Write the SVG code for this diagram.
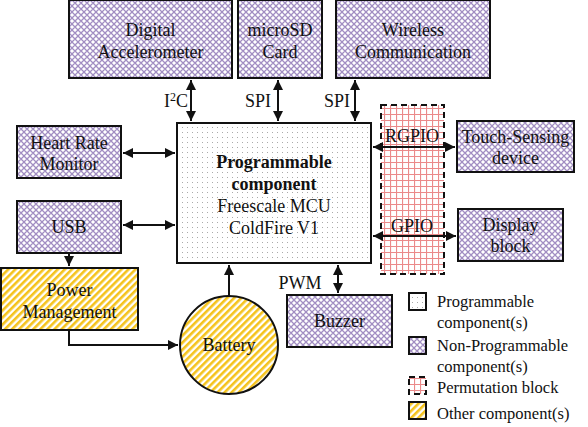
<svg xmlns="http://www.w3.org/2000/svg" width="588" height="427" viewBox="0 0 588 427">
<style>
text{font-family:'Liberation Serif','Times New Roman',Times,'DejaVu Serif',serif}
.t{font-size:18px;fill:#111;text-anchor:middle}
.b{font-weight:bold}
.l{font-size:16.5px;fill:#111}
.np{fill:url(#pNP);stroke:#111;stroke-width:2}
.pr{fill:url(#pDot);stroke:#111;stroke-width:2}
.ot{fill:url(#pYel);stroke:#111;stroke-width:2}
.pm{fill:url(#pGrid);stroke:#111;stroke-width:2;stroke-dasharray:6,4}
.c{fill:none;stroke:#111;stroke-width:2}
</style>
<defs>
<pattern id="pNP" width="6" height="6" patternUnits="userSpaceOnUse">
<rect width="6" height="6" fill="#fff"/>
<path d="M0,0L6,6M6,0L0,6M-3,3L3,-3M3,9L9,3M-3,3L3,9M3,-3L9,3" stroke="#a18dc2" stroke-width="1.3"/>
</pattern>
<pattern id="pDot" width="5" height="5" patternUnits="userSpaceOnUse">
<rect width="5" height="5" fill="#fff"/>
<rect x="2" y="2" width="1" height="1" fill="#aaa"/>
</pattern>
<pattern id="pGrid" width="6" height="6" patternUnits="userSpaceOnUse">
<rect width="6" height="6" fill="#fff"/>
<path d="M0,0.5H6M0.5,0V6" stroke="#eb8a8a" stroke-width="1.2"/>
</pattern>
<pattern id="pYel" width="5" height="5" patternUnits="userSpaceOnUse" patternTransform="rotate(45)">
<rect width="5" height="5" fill="#fff"/>
<rect width="2.6" height="5" fill="#f5c31c"/>
</pattern>
<marker id="a" viewBox="0 0 10 10" refX="10" refY="5" markerWidth="5" markerHeight="5" orient="auto-start-reverse">
<path d="M0,0L10,5L0,10z" fill="#111"/>
</marker>
</defs>

<g id="perm"><rect class="pm" x="381" y="105" width="63" height="169"/></g>

<g id="connectors">
<line class="c" x1="191" y1="80" x2="191" y2="121" marker-start="url(#a)" marker-end="url(#a)"/>
<line class="c" x1="278" y1="80" x2="278" y2="121" marker-start="url(#a)" marker-end="url(#a)"/>
<line class="c" x1="355" y1="80" x2="355" y2="121" marker-start="url(#a)" marker-end="url(#a)"/>
<line class="c" x1="123" y1="153" x2="175" y2="153" marker-start="url(#a)" marker-end="url(#a)"/>
<line class="c" x1="123" y1="225" x2="175" y2="225" marker-start="url(#a)" marker-end="url(#a)"/>
<line class="c" x1="373" y1="147" x2="455" y2="147" marker-start="url(#a)" marker-end="url(#a)"/>
<line class="c" x1="373" y1="236" x2="456" y2="236" marker-start="url(#a)" marker-end="url(#a)"/>
<line class="c" x1="338" y1="265" x2="338" y2="293" marker-start="url(#a)" marker-end="url(#a)"/>
<line class="c" x1="69" y1="254" x2="69" y2="266" marker-end="url(#a)"/>
<polyline class="c" points="69,331 69,345 178,345" marker-end="url(#a)"/>
<line class="c" x1="229" y1="296" x2="229" y2="265" marker-end="url(#a)"/>
<text class="t" x="176" y="107" font-size="17">I<tspan dy="-6" font-size="12">2</tspan><tspan dy="6">C</tspan></text>
<text class="t" x="258" y="107" font-size="17">SPI</text>
<text class="t" x="337" y="107" font-size="17">SPI</text>
<text class="t" x="412" y="142" font-size="17">RGPIO</text>
<text class="t" x="412" y="232" font-size="17">GPIO</text>
<text class="t" x="300" y="289" font-size="17">PWM</text>
</g>

<g id="accel"><rect class="np" x="69" y="0" width="163" height="78"/>
<text class="t" x="150.5" y="36">Digital</text><text class="t" x="150.5" y="58">Accelerometer</text></g>
<g id="microsd"><rect class="np" x="238" y="0" width="84" height="78"/>
<text class="t" x="280" y="36">microSD</text><text class="t" x="280" y="58">Card</text></g>
<g id="wireless"><rect class="np" x="336" y="0" width="154" height="78"/>
<text class="t" x="413" y="36">Wireless</text><text class="t" x="413" y="58">Communication</text></g>

<g id="mcu"><rect class="pr" x="177" y="123" width="194" height="140"/>
<text class="t b" x="274" y="168">Programmable</text>
<text class="t b" x="274" y="190">component</text>
<text class="t" x="274" y="212">Freescale MCU</text>
<text class="t" x="274" y="234">ColdFire V1</text></g>

<g id="heart"><rect class="np" x="17" y="126" width="104" height="52"/>
<text class="t" x="69" y="149">Heart Rate</text><text class="t" x="69" y="170">Monitor</text></g>
<g id="usb"><rect class="np" x="17" y="201" width="104" height="52"/>
<text class="t" x="69" y="233">USB</text></g>
<g id="power"><rect class="ot" x="1" y="268" width="137" height="62"/>
<text class="t" x="69.5" y="296">Power</text><text class="t" x="69.5" y="318">Management</text></g>
<g id="battery"><circle class="ot" cx="229" cy="345" r="49"/>
<text class="t" x="229" y="351">Battery</text></g>
<g id="buzzer"><rect class="np" x="287" y="295" width="105" height="52"/>
<text class="t" x="339.5" y="327">Buzzer</text></g>
<g id="touch"><rect class="np" x="457" y="121" width="117" height="51"/>
<text class="t" x="515.5" y="143">Touch-Sensing</text><text class="t" x="515.5" y="164">device</text></g>
<g id="display"><rect class="np" x="458" y="209" width="105" height="52"/>
<text class="t" x="510.5" y="231">Display</text><text class="t" x="510.5" y="252">block</text></g>

<g id="legend">
<rect class="pr" x="409" y="293" width="17" height="17"/>
<text class="l" x="437" y="307">Programmable</text>
<text class="l" x="437" y="328">component(s)</text>
<rect class="np" x="409" y="337" width="17" height="17"/>
<text class="l" x="437" y="351">Non-Programmable</text>
<text class="l" x="437" y="372">component(s)</text>
<rect class="pm" x="409" y="377" width="17" height="17" stroke-dasharray="4,3"/>
<text class="l" x="437" y="393">Permutation block</text>
<rect class="ot" x="409" y="402" width="17" height="17"/>
<text class="l" x="437" y="419">Other component(s)</text>
</g>
</svg>
